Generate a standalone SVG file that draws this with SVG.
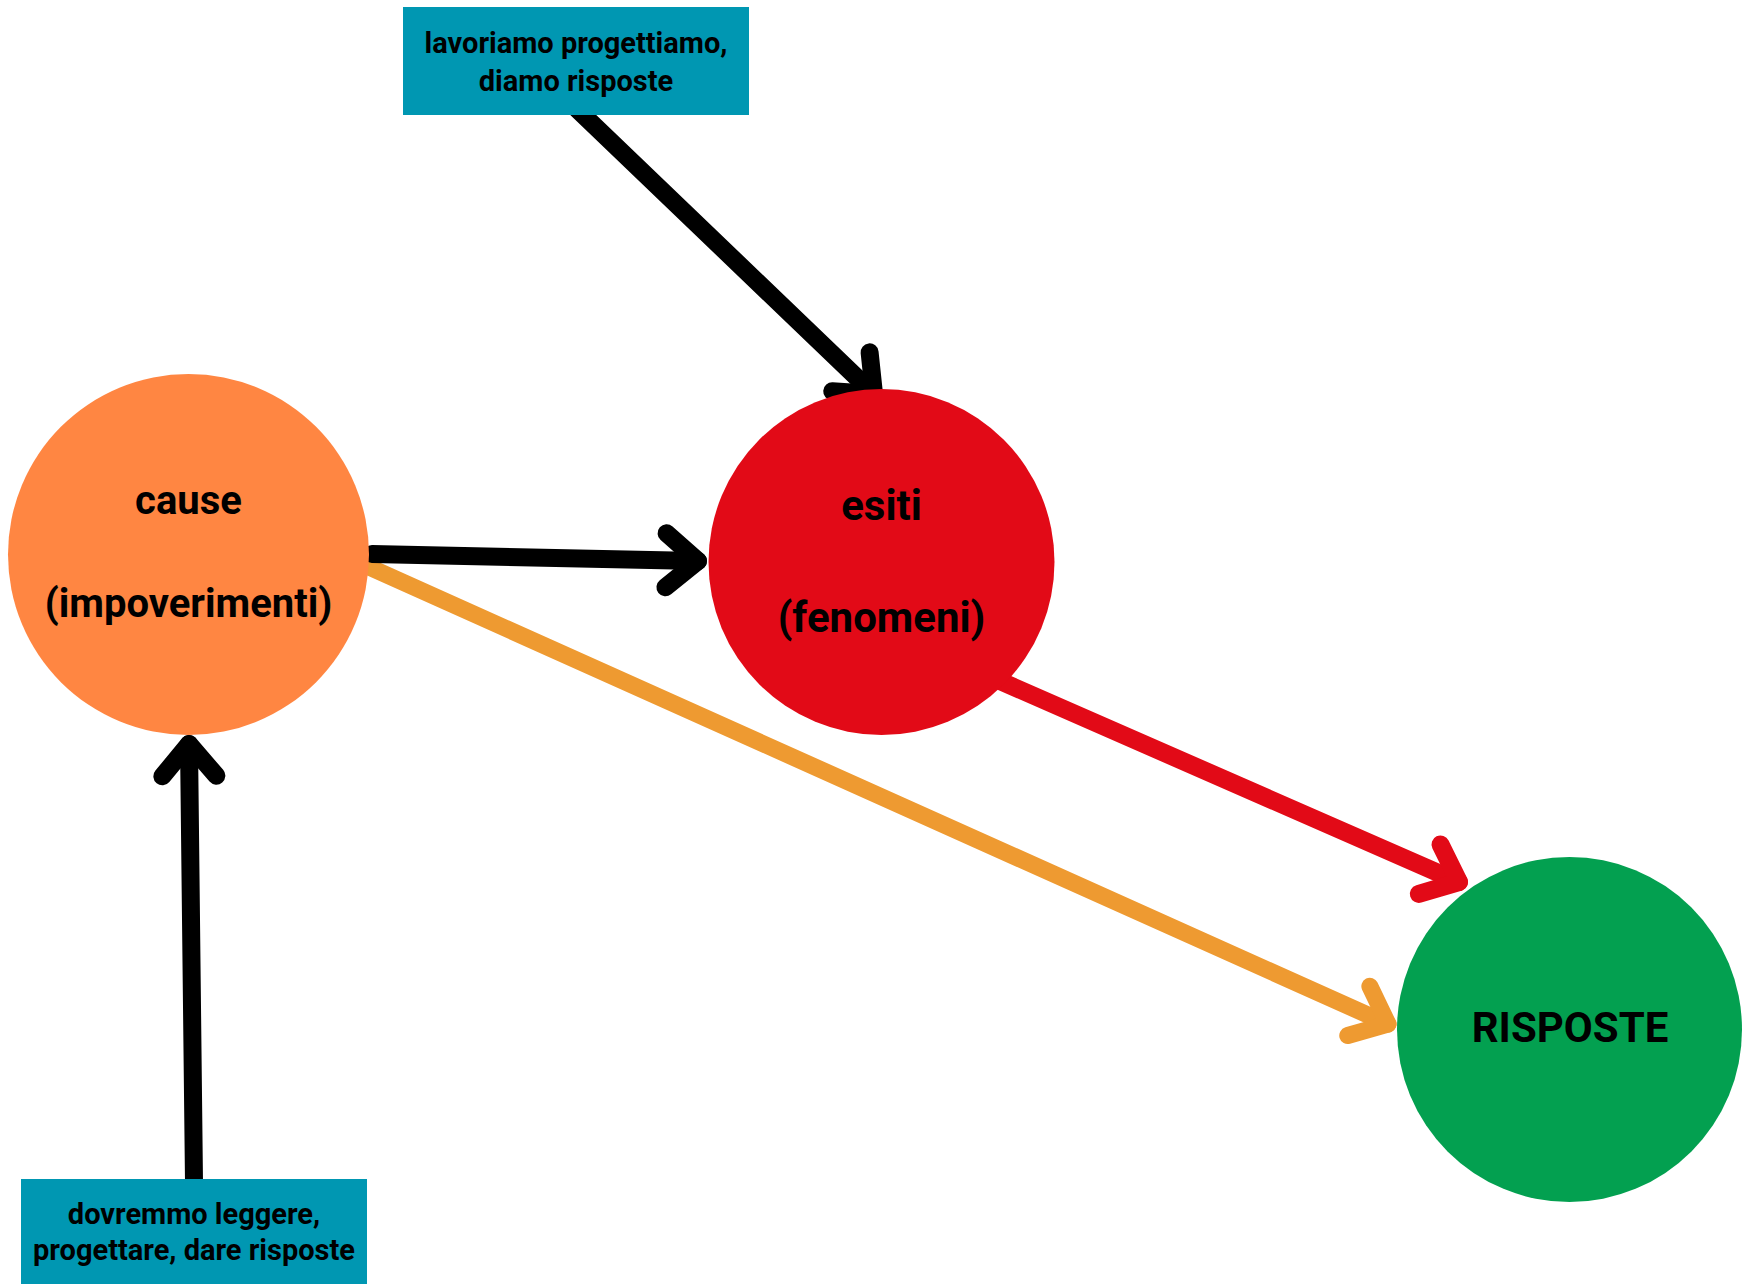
<svg xmlns="http://www.w3.org/2000/svg" width="1749" height="1284" viewBox="0 0 1749 1284">
  <style>
    .lbl { font-family: Roboto, "Liberation Sans", sans-serif; font-weight: 700; fill: #000; text-anchor: middle; }
    .box { fill: #0097B2; }
    .small { font-size: 29px; }
    .big { font-size: 40px; }
    .big2 { font-size: 42px; }
    .conn { fill: none; stroke-linecap: round; stroke-linejoin: round; }
  </style>
  <defs>
    <marker id="ah-black" markerUnits="userSpaceOnUse" orient="auto" overflow="visible" markerWidth="1" markerHeight="1" refX="0" refY="0">
      <path d="M-32,-27 L0,0 L-32,27" fill="none" stroke="#000000" stroke-width="18" stroke-linecap="round" stroke-linejoin="round"/>
    </marker>
    <marker id="ah-red" markerUnits="userSpaceOnUse" orient="auto" overflow="visible" markerWidth="1" markerHeight="1" refX="0" refY="0">
      <path d="M-32,-27 L0,0 L-32,27" fill="none" stroke="#E20A17" stroke-width="18" stroke-linecap="round" stroke-linejoin="round"/>
    </marker>
    <marker id="ah-orange" markerUnits="userSpaceOnUse" orient="auto" overflow="visible" markerWidth="1" markerHeight="1" refX="0" refY="0">
      <path d="M-32,-27 L0,0 L-32,27" fill="none" stroke="#EE9A31" stroke-width="17" stroke-linecap="round" stroke-linejoin="round"/>
    </marker>
  </defs>
  <rect width="1749" height="1284" fill="#ffffff"/>

  <g id="connectors">
    <path class="conn" d="M369,567 L1388,1024" stroke="#EE9A31" stroke-width="17" marker-end="url(#ah-orange)"/>
    <path class="conn" d="M1000,681 L1459,882" stroke="#E20A17" stroke-width="18" marker-end="url(#ah-red)"/>
    <path class="conn" d="M372,554 L698,561" stroke="#000000" stroke-width="18" marker-end="url(#ah-black)"/>
    <path class="conn" d="M577,109 L874,394" stroke="#000000" stroke-width="18" marker-end="url(#ah-black)"/>
    <path class="conn" d="M194,1182 L189,744" stroke="#000000" stroke-width="18" marker-end="url(#ah-black)"/>
  </g>

  <g id="node-cause">
    <circle cx="188.5" cy="554.5" r="180.5" fill="#FF8642"/>
    <text class="lbl big" x="188.5" y="514">cause</text>
    <text class="lbl big" x="188.5" y="617">(impoverimenti)</text>
  </g>

  <g id="node-esiti">
    <circle cx="881.5" cy="562" r="173" fill="#E20A17"/>
    <text class="lbl big2" x="881.5" y="520">esiti</text>
    <text class="lbl big2" x="881.5" y="632">(fenomeni)</text>
  </g>

  <g id="node-risposte">
    <circle cx="1569.5" cy="1029.5" r="172.5" fill="#03A050"/>
    <text class="lbl big2" x="1570" y="1042">RISPOSTE</text>
  </g>

  <g id="node-lavoriamo">
    <rect class="box" x="403" y="7" width="346" height="108"/>
    <text class="lbl small" x="576" y="53">lavoriamo progettiamo,</text>
    <text class="lbl small" x="576" y="91">diamo risposte</text>
  </g>

  <g id="node-dovremmo">
    <rect class="box" x="21" y="1179" width="346" height="105"/>
    <text class="lbl small" x="194" y="1224">dovremmo leggere,</text>
    <text class="lbl small" x="194" y="1260">progettare, dare risposte</text>
  </g>
</svg>
